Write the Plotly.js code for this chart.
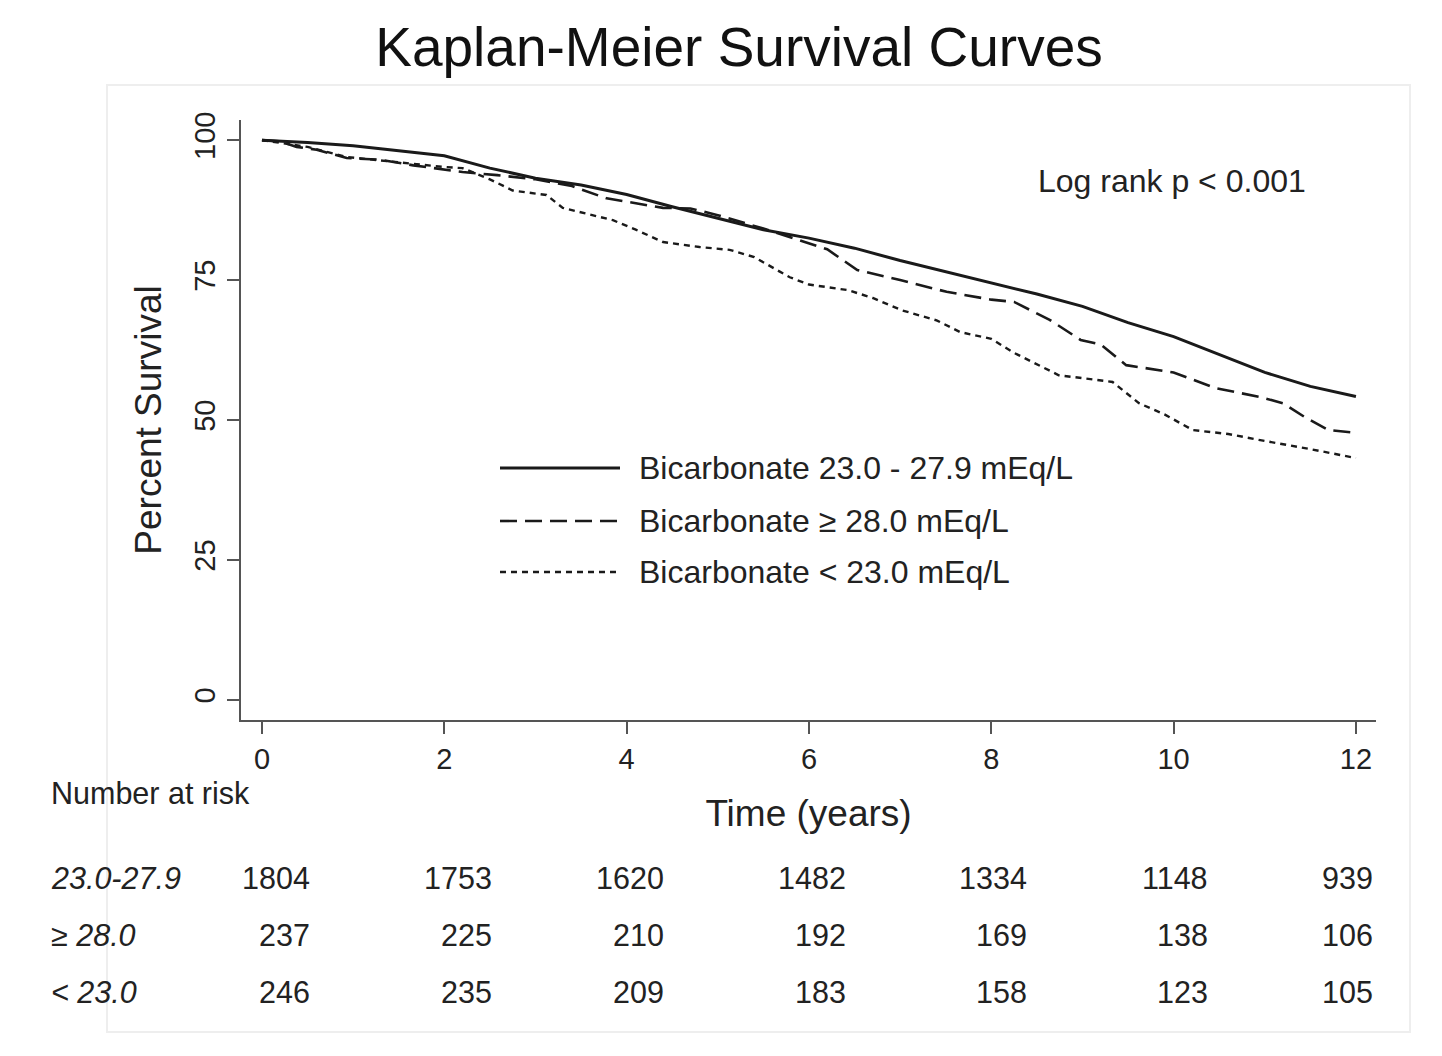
<!DOCTYPE html>
<html>
<head>
<meta charset="utf-8">
<script src="https://cdn.plot.ly/plotly-3.0.1.min.js"></script>
<style>html,body{margin:0;padding:0;background:#fff;}#chart{width:1442px;height:1056px;}</style>
</head>
<body>
<div id="chart"></div>
<script>
// ---- data ----
var seriesNames = ["Bicarbonate 23.0 - 27.9 mEq/L", "Bicarbonate \u2265 28.0 mEq/L", "Bicarbonate < 23.0 mEq/L"];

var tMid = [0, 0.5, 1, 1.5, 2, 2.5, 3, 3.5, 4, 4.5, 5, 5.5, 6, 6.5, 7, 7.5, 8, 8.5, 9, 9.5, 10, 10.5, 11, 11.5, 12];
var sMid = [100, 99.6, 99.0, 98.1, 97.2, 95.0, 93.2, 92.0, 90.3, 88.1, 86.1, 84.0, 82.5, 80.7, 78.5, 76.5, 74.6, 72.5, 70.3, 67.4, 64.9, 61.7, 58.5, 56.0, 54.2];

var tHigh = [0, 0.2, 0.38, 0.6, 0.93, 1.3, 1.66, 2.0, 2.2, 2.58, 3.0, 3.4, 3.78, 4.0, 4.4, 4.7, 5.0, 5.5, 5.99, 6.2, 6.53, 7.0, 7.51, 8.0, 8.25, 8.64, 8.98, 9.2, 9.48, 10.0, 10.46, 10.95, 11.2, 11.44, 11.7, 12];
var sHigh = [100, 99.8, 98.8, 98.3, 96.8, 96.5, 95.5, 94.8, 94.3, 93.75, 93.0, 91.8, 89.6, 89.0, 87.9, 87.8, 86.6, 84.2, 81.6, 80.5, 76.8, 75.0, 72.9, 71.5, 71.1, 67.9, 64.3, 63.5, 59.8, 58.5, 55.7, 54.1, 53.0, 50.5, 48.2, 47.7];

var tLow = [0, 0.5, 0.93, 1.5, 2.0, 2.2, 2.5, 2.75, 3.12, 3.3, 3.85, 4.1, 4.4, 4.8, 5.13, 5.4, 5.79, 6.0, 6.43, 6.7, 7.02, 7.4, 7.66, 8.0, 8.25, 8.74, 9.33, 9.62, 9.9, 10.21, 10.6, 10.95, 11.5, 12];
var sLow = [100, 98.8, 97.0, 96.0, 95.2, 95.0, 93.0, 91.0, 90.2, 87.9, 85.7, 84.0, 81.8, 80.9, 80.4, 79.1, 75.5, 74.2, 73.2, 71.8, 69.6, 67.8, 65.7, 64.5, 62.0, 58.0, 56.8, 53.0, 51.0, 48.2, 47.5, 46.4, 44.8, 43.2];

var riskTimes = [0, 2, 4, 6, 8, 10, 12];
var riskGroupLabels = ["23.0-27.9", "\u2265 28.0", "< 23.0"];
var riskMid = [1804, 1753, 1620, 1482, 1334, 1148, 939];
var riskHigh = [237, 225, 210, 192, 169, 138, 106];
var riskLow = [246, 235, 209, 183, 158, 123, 105];

var xTicks = [0, 2, 4, 6, 8, 10, 12];
var yTicks = [0, 25, 50, 75, 100];

// ---- layout helpers ----
var W = 1442, H = 1056;
var L = 241, R = 1376, T = 120, B = 720;
function px(x) { return (x - L) / (R - L); }
function py(y) { return (B - y) / (B - T); }

var ink = "#222222";
var sans = "Liberation Sans, Arial, Helvetica, sans-serif";

var styles = [
  {color: "#1a1a1a", width: 3, dash: "solid"},
  {color: "#1a1a1a", width: 2.6, dash: "17px,8px"},
  {color: "#1a1a1a", width: 2.4, dash: "6px,5px"}
];

var traces = [
  {x: tMid, y: sMid, name: seriesNames[0], mode: "lines", line: styles[0]},
  {x: tHigh, y: sHigh, name: seriesNames[1], mode: "lines", line: styles[1]},
  {x: tLow, y: sLow, name: seriesNames[2], mode: "lines", line: styles[2]}
];

var annotations = [];
var shapes = [];

// frame
shapes.push({type: "rect", xref: "paper", yref: "paper",
  x0: px(107), x1: px(1410), y0: py(1032), y1: py(85),
  line: {color: "#eeeeee", width: 2}, fillcolor: "rgba(0,0,0,0)", layer: "below"});

// manual legend
var legY = [468, 521, 572];
for (var i = 0; i < 3; i++) {
  shapes.push({type: "line", xref: "paper", yref: "paper",
    x0: px(500), x1: px(620), y0: py(legY[i]), y1: py(legY[i]),
    line: {color: styles[i].color, width: styles[i].width, dash: styles[i].dash}});
  annotations.push({xref: "paper", yref: "paper", x: px(637), y: py(legY[i]),
    xanchor: "left", yanchor: "middle", showarrow: false, text: seriesNames[i],
    font: {family: sans, size: 32, color: ink}});
}

// log rank
annotations.push({xref: "paper", yref: "paper", x: px(1308), y: py(181),
  xanchor: "right", yanchor: "middle", showarrow: false, text: "Log rank p < 0.001",
  font: {family: sans, size: 32, color: ink}});

// number at risk
annotations.push({xref: "paper", yref: "paper", x: px(49), y: py(793),
  xanchor: "left", yanchor: "middle", showarrow: false, text: "Number at risk",
  font: {family: sans, size: 30.5, color: ink}});

var rowY = [878, 935, 992];
var colRight = [312, 494, 666, 848, 1029, 1210, 1375];
var riskRows = [riskMid, riskHigh, riskLow];
for (var r = 0; r < 3; r++) {
  annotations.push({xref: "paper", yref: "paper", x: px(49), y: py(rowY[r]),
    xanchor: "left", yanchor: "middle", showarrow: false,
    text: "<i>" + riskGroupLabels[r] + "</i>",
    font: {family: sans, size: 30.5, color: ink}});
  for (var c = 0; c < riskTimes.length; c++) {
    annotations.push({xref: "paper", yref: "paper", x: px(colRight[c]), y: py(rowY[r]),
      xanchor: "right", yanchor: "middle", showarrow: false,
      text: String(riskRows[r][c]),
      font: {family: sans, size: 30.5, color: ink}});
  }
}

var layout = {
  width: W, height: H,
  paper_bgcolor: "#ffffff", plot_bgcolor: "#ffffff",
  margin: {l: L, r: W - R, t: T, b: H - B, pad: 0},
  showlegend: false,
  title: {text: "Kaplan-Meier Survival Curves", font: {family: sans, size: 55, color: "#111111"},
    x: 739 / W, xanchor: "center", xref: "container", yref: "container", y: 1 - 47 / H, yanchor: "middle"},
  xaxis: {
    range: [-0.23, 12.22], tickvals: xTicks, ticktext: xTicks.map(String),
    showgrid: false, zeroline: false, showline: true, linecolor: "#555555", linewidth: 2,
    ticks: "outside", ticklen: 12, tickwidth: 2, tickcolor: "#555555",
    tickfont: {family: sans, size: 29, color: ink},
    title: {text: "Time (years)", font: {family: sans, size: 37, color: ink}, standoff: 26}
  },
  yaxis: {
    range: [-3.6, 103.6], tickvals: yTicks, ticktext: yTicks.map(String),
    showgrid: false, zeroline: false, showline: true, linecolor: "#555555", linewidth: 2,
    ticks: "outside", ticklen: 12, tickwidth: 2, tickcolor: "#555555",
    tickangle: -90,
    tickfont: {family: sans, size: 29, color: ink},
    title: {text: "Percent Survival", font: {family: sans, size: 37, color: ink}, standoff: 16}
  },
  shapes: shapes,
  annotations: annotations
};

Plotly.newPlot("chart", traces, layout, {displayModeBar: false, staticPlot: true});
</script>
</body>
</html>
